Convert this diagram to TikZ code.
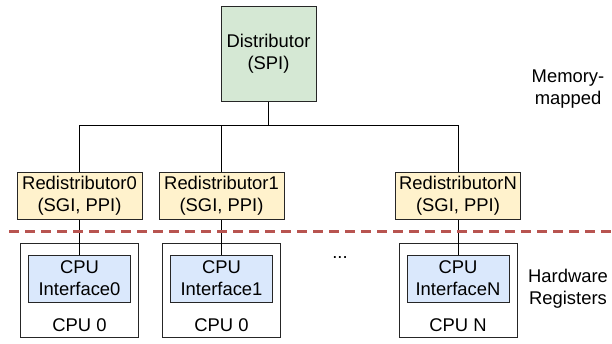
\documentclass[tikz,border=0pt]{standalone}
\usepackage{fontspec}
\setmainfont{Liberation Sans}
\begin{document}
\begin{tikzpicture}[x=1pt,y=-1pt,
  every node/.style={font=\fontsize{18.4}{22}\selectfont, align=center, inner sep=0pt},
  box/.style={draw=black!85, line width=1pt},
  dist/.style={box, fill={rgb,255:red,213;green,232;blue,212}},
  redist/.style={box, fill={rgb,255:red,255;green,242;blue,204}},
  iface/.style={box, fill={rgb,255:red,218;green,232;blue,252}},
  cpu/.style={box, fill=white},
  wire/.style={draw=black, line width=1pt},
  split/.style={draw={rgb,255:red,184;green,84;blue,80}, line width=3pt, dash pattern=on 10pt off 6pt}
]
\useasboundingbox (0,0) rectangle (612,343);

% distributor
\node[dist, minimum width=95pt, minimum height=95pt] (dist) at (268.5,54) {Distributor\\(SPI)};

% redistributors
\node[redist, minimum width=125pt, minimum height=47pt] (r0) at (79.5,196) {Redistributor0\\(SGI, PPI)};
\node[redist, minimum width=125pt, minimum height=47pt] (r1) at (221.5,196) {Redistributor1\\(SGI, PPI)};
\node[redist, minimum width=125pt, minimum height=47pt] (rn) at (458,196) {RedistributorN\\(SGI, PPI)};

% CPU enclosures
\node[cpu, minimum width=118pt, minimum height=94pt] (c0) at (79.5,290.5) {};
\node[cpu, minimum width=118pt, minimum height=94pt] (c1) at (221.5,290.5) {};
\node[cpu, minimum width=118pt, minimum height=94pt] (cn) at (458,290.5) {};

% CPU interfaces
\node[iface, minimum width=102pt, minimum height=47pt] (i0) at (79.5,278.5) {CPU\\Interface0};
\node[iface, minimum width=102pt, minimum height=47pt] (i1) at (221.5,278.5) {CPU\\Interface1};
\node[iface, minimum width=102pt, minimum height=47pt] (in) at (458,278.5) {CPU\\InterfaceN};

\node (l0) at (79.5,325) {CPU 0};
\node (l1) at (221.5,325) {CPU 0};
\node (ln) at (458,325) {CPU N};

% bus from the distributor to each redistributor
\coordinate (bus) at (268.5,125);
\draw[wire] (dist.south) -- (bus);
\draw[wire] (bus) -| (r0.north);
\draw[wire] (bus) -| (r1.north);
\draw[wire] (bus) -| (rn.north);

% redistributor to CPU interface links
\draw[wire] (r0.south) -- (i0.north);
\draw[wire] (r1.south) -- (i1.north);
\draw[wire] (rn.south) -- (in.north);

% boundary between memory-mapped and register interfaces
\coordinate (sl) at (9,231);
\coordinate (sr) at (612,231);
\draw[split] (sl) -- (sr);

\node (dots) at (340,258) {...};
\node (mm) at (568,89) {Memory-\\mapped};
\node (hw) at (568,289) {Hardware\\Registers};
\end{tikzpicture}
\end{document}
